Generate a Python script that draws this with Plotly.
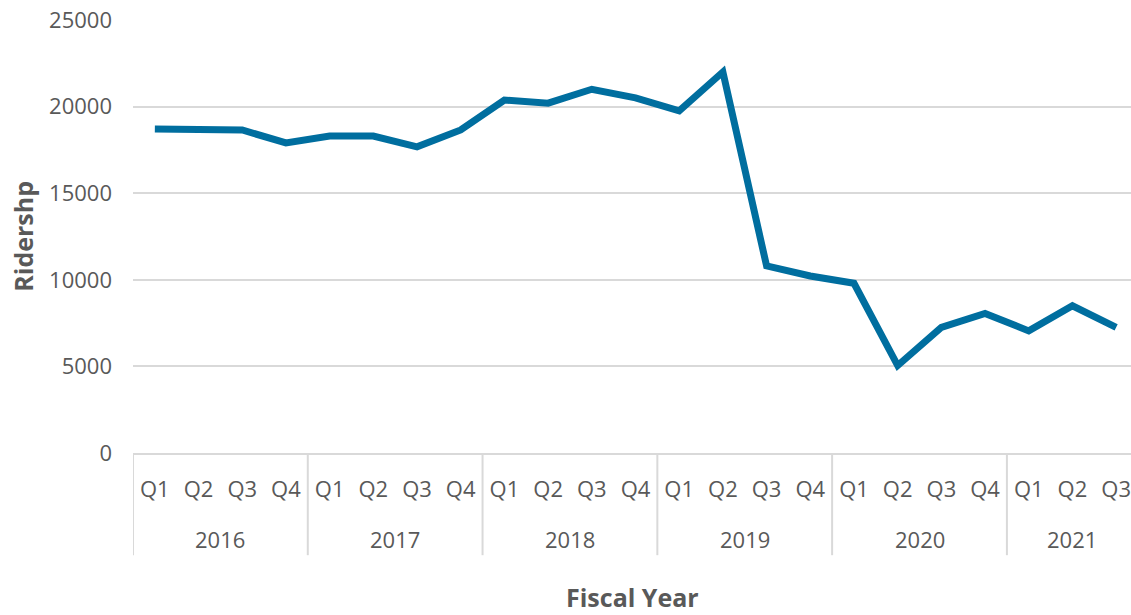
import plotly.graph_objects as go

years = ["2016"] * 4 + ["2017"] * 4 + ["2018"] * 4 + ["2019"] * 4 + ["2020"] * 4 + ["2021"] * 3
quarters = ["Q1", "Q2", "Q3", "Q4"] * 5 + ["Q1", "Q2", "Q3"]
ridership = [18700, 18650, 18650, 17900,
             18300, 18300, 17680, 18650,
             20380, 20200, 21000, 20500,
             19750, 22000, 10800, 10220,
             9800, 5050, 7250, 8060,
             7050, 8500, 7250]
y_ticks = [0, 5000, 10000, 15000, 20000, 25000]

line_color = "#006E9F"
grey = "#595959"
grid = "#D9D9D9"
font_family = "Open Sans, Segoe UI, sans-serif"

n = len(ridership)
idx = list(range(n))

fig = go.Figure(
    go.Scatter(
        x=idx,
        y=ridership,
        mode="lines",
        line=dict(color=line_color, width=7),
        hoverinfo="y",
    )
)

# year group labels and dividers
groups = []
for i, yr in enumerate(years):
    if not groups or groups[-1][0] != yr:
        groups.append([yr, i, i])
    else:
        groups[-1][2] = i

annotations = []
shapes = []
for yr, start, end in groups:
    annotations.append(dict(
        x=(start + end) / 2, xref="x", y=-0.199, yref="paper",
        text=yr, showarrow=False, xanchor="center", yanchor="middle",
        font=dict(size=22, color=grey, family=font_family),
    ))
    shapes.append(dict(
        type="line", xref="x", yref="paper",
        x0=start - 0.5, x1=start - 0.5, y0=0, y1=-0.236,
        line=dict(color=grid, width=2),
    ))
shapes.append(dict(
    type="line", xref="x", yref="paper",
    x0=n - 0.5, x1=n - 0.5, y0=0, y1=-0.236,
    line=dict(color=grid, width=2),
))

annotations.append(dict(
    x=0.5, xref="paper", y=-0.333, yref="paper",
    text="<b>Fiscal Year</b>", showarrow=False, xanchor="center", yanchor="middle",
    font=dict(size=25, color=grey, family=font_family),
))
annotations.append(dict(
    x=-0.111, xref="paper", y=0.5, yref="paper",
    text="<b>Ridershp</b>", showarrow=False, textangle=-90,
    xanchor="center", yanchor="middle",
    font=dict(size=25, color=grey, family=font_family),
))

fig.update_layout(
    width=1131,
    height=615,
    margin=dict(l=133, r=0, t=20, b=162),
    paper_bgcolor="white",
    plot_bgcolor="white",
    showlegend=False,
    font=dict(family=font_family, size=22, color=grey),
    annotations=annotations,
    shapes=shapes,
)

fig.update_xaxes(
    range=[-0.5, n - 0.66],
    tickmode="array",
    tickvals=idx,
    ticktext=quarters,
    showline=True,
    linecolor=grid,
    linewidth=2,
    showgrid=False,
    zeroline=False,
    ticks="",
    ticklabelstandoff=16,
    tickfont=dict(size=22, color=grey),
)

fig.update_yaxes(
    range=[0, 25000],
    tickvals=y_ticks,
    tickformat="d",
    showgrid=True,
    gridcolor=grid,
    gridwidth=1.5,
    zeroline=False,
    showline=False,
    ticks="",
    ticklabelstandoff=20,
    tickfont=dict(size=22, color=grey),
)

fig.write_html("out.html")
